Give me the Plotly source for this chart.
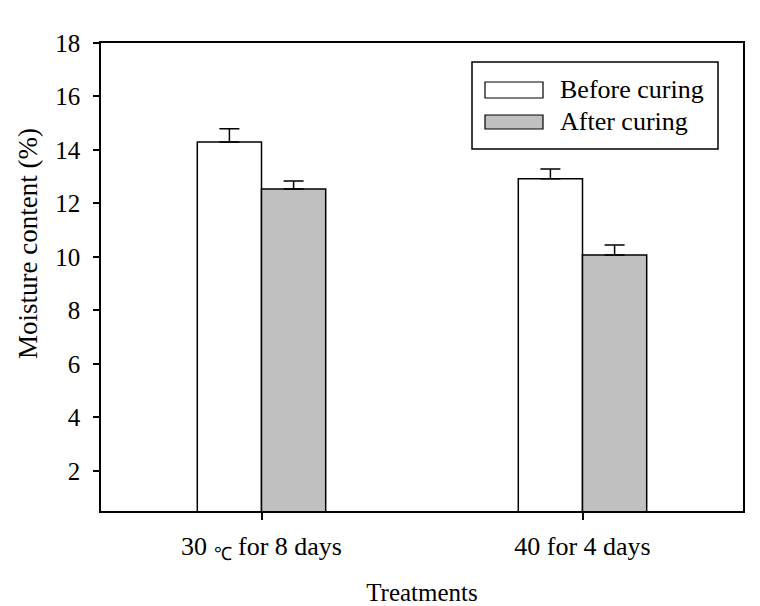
import plotly.graph_objects as go

treatments = ["30 <sub>℃</sub> for 8 days", "40 for 4 days"]
series_names = ["Before curing", "After curing"]
before_vals = [14.30, 12.92]
before_err = [0.49, 0.37]
after_vals = [12.54, 10.07]
after_err = [0.30, 0.38]
y_ticks = [2, 4, 6, 8, 10, 12, 14, 16, 18]

FONT = "Liberation Serif"
fills = ["#ffffff", "#c0c0c0"]

fig = go.Figure()
for name, vals, errs, fill in [
    (series_names[0], before_vals, before_err, fills[0]),
    (series_names[1], after_vals, after_err, fills[1]),
]:
    fig.add_trace(go.Bar(
        x=treatments, y=vals, name=name,
        marker=dict(color=fill, line=dict(color="black", width=1.5)),
        error_y=dict(type="data", array=errs, arrayminus=[0] * len(errs),
                     symmetric=False, color="black", thickness=1.5, width=10),
        showlegend=False,
    ))

# page offset from default body margin
OFF = 8
W, H = 760 - OFF, 606 - OFF
L, R, T, B = 101 - OFF, 17, 43 - OFF, 95
pw, ph = W - L - R, H - T - B

def px_x(x):
    return (x - OFF - L) / pw

def px_y(y):
    return (H - B - (y - OFF)) / ph

fig.update_layout(
    width=W, height=H,
    margin=dict(l=L, r=R, t=T, b=B, autoexpand=False),
    paper_bgcolor="white", plot_bgcolor="white",
    barmode="group", bargap=0.6, bargroupgap=0,
    font=dict(family=FONT, size=25, color="black"),
    xaxis=dict(
        range=[-0.5, 1.5], showline=True, linecolor="black", linewidth=1.5,
        mirror=True, ticks="outside", ticklen=7, tickwidth=1.5, tickcolor="black",
        tickfont=dict(family=FONT, size=26), showgrid=False, zeroline=False,
        ticklabelstandoff=4, automargin=False,
        title=dict(text="Treatments", font=dict(family=FONT, size=25), standoff=28),
    ),
    yaxis=dict(
        range=[0.5, 18], showline=True, linecolor="black", linewidth=1.5,
        mirror=True, ticks="outside", ticklen=6, tickwidth=1.5, tickcolor="black",
        tickvals=y_ticks, ticktext=[str(v) for v in y_ticks],
        tickfont=dict(family=FONT, size=25), showgrid=False, zeroline=False,
        ticklabelstandoff=8, automargin=False,
    ),
)

# Y axis title (manual placement)
fig.add_annotation(
    text="Moisture content (%)", textangle=-90,
    x=px_x(28), y=px_y(244), xref="paper", yref="paper",
    xanchor="center", yanchor="middle",
    showarrow=False, font=dict(family=FONT, size=27),
)

# Legend (manual, wide rectangles like the reference)
fig.add_shape(type="rect", xref="paper", yref="paper",
              x0=px_x(472), x1=px_x(718), y0=px_y(149), y1=px_y(62),
              line=dict(color="black", width=1.5), fillcolor="white")
for i, (name, fill) in enumerate(zip(series_names, fills)):
    ytop, ybot = [(82, 98), (115, 129)][i]
    fig.add_shape(type="rect", xref="paper", yref="paper",
                  x0=px_x(485), x1=px_x(543), y0=px_y(ybot), y1=px_y(ytop),
                  line=dict(color="black", width=1.2), fillcolor=fill)
    fig.add_annotation(text=name, xref="paper", yref="paper",
                       x=px_x(558), y=px_y((ytop + ybot) / 2),
                       xanchor="left", yanchor="middle", showarrow=False,
                       font=dict(family=FONT, size=26))

fig.write_html("out.html")
